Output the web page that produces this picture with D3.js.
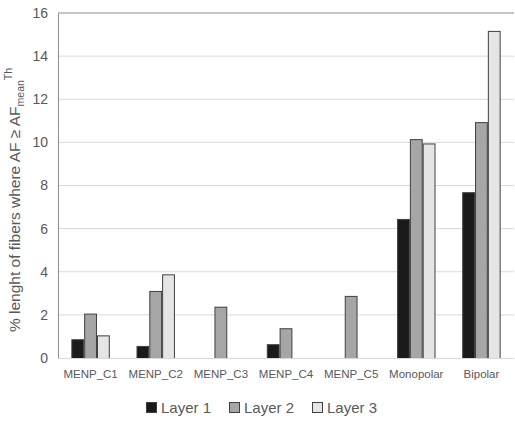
<!DOCTYPE html>
<html><head><meta charset="utf-8">
<script src="https://cdn.jsdelivr.net/npm/d3@7"></script>
<style>body{margin:0;background:#fff}text{font-family:"Liberation Sans",Arial,sans-serif;fill:#595959}</style>
</head><body><svg id="c" width="515" height="421"></svg>
<script>
const categories = ["MENP_C1","MENP_C2","MENP_C3","MENP_C4","MENP_C5","Monopolar","Bipolar"];
const seriesNames = ["Layer 1","Layer 2","Layer 3"];
const layer1 = [0.87, 0.56, 0, 0.64, 0, 6.45, 7.69];
const layer2 = [2.06, 3.11, 2.38, 1.38, 2.88, 10.15, 10.94];
const layer3 = [1.05, 3.88, 0, 0, 0, 9.95, 15.17];
const yTicks = [0,2,4,6,8,10,12,14,16];
const colors = ["#1a1a1a","#a8a5a5","#e6e5e5"];

const series = [layer1, layer2, layer3];
const svg = d3.select("#c");
const m = {l:58, r:514, t:13, b:358};
const x0 = d3.scaleBand().domain(categories).range([m.l, m.r]).paddingInner(0.41).paddingOuter(0.205);
const x1 = d3.scaleBand().domain(seriesNames).range([0, x0.bandwidth()]);
const y = d3.scaleLinear().domain([0,16]).range([m.b, m.t]);

// gridlines
svg.append("g").selectAll("line").data(yTicks.filter(d=>d>0 && d<16)).join("line")
  .attr("x1", m.l).attr("x2", m.r).attr("y1", d=>y(d)).attr("y2", d=>y(d))
  .attr("stroke","#d9d9d9").attr("stroke-width",1);
// top frame line
svg.append("line").attr("x1",m.l).attr("x2",m.r).attr("y1",y(16)).attr("y2",y(16)).attr("stroke","#8c8c8c");
// y axis
const yAxis = d3.axisLeft(y).tickValues(yTicks).tickSize(0).tickPadding(10);
const gy = svg.append("g").attr("transform",`translate(${m.l},0)`).call(yAxis);
gy.select(".domain").attr("stroke","#8c8c8c");
gy.selectAll("text").style("font-size","14px").attr("fill","#595959");
// bars
const g = svg.append("g");
categories.forEach((c,i)=>{
  series.forEach((s,j)=>{
    if (s[i] <= 0) return;
    g.append("rect").attr("x", x0(c)+x1(seriesNames[j])+0.5).attr("y", y(s[i])+0.5)
     .attr("width", x1.bandwidth()-1).attr("height", y(0)-y(s[i]))
     .attr("fill", colors[j]).attr("stroke","#404040").attr("stroke-width",1);
  });
});
// x axis
const xAxis = d3.axisBottom(x0).tickSize(0).tickPadding(12);
const gx = svg.append("g").attr("transform",`translate(0,${m.b})`).call(xAxis);
gx.select(".domain").attr("stroke","#d9d9d9");
gx.selectAll("text").style("font-size","11.5px").attr("fill","#595959");

// y title
const yt = svg.append("text").attr("transform","translate(20,200) rotate(-90)").attr("text-anchor","middle").style("font-size","15.5px");
yt.append("tspan").text("% lenght of fibers where AF ≥ AF");
yt.append("tspan").text("mean").style("font-size","10.5px").attr("dy",4);
yt.append("tspan").text("Th").style("font-size","10.5px").attr("dy",-12);

// legend
const lx = [146, 229, 312];
seriesNames.forEach((n,j)=>{
  svg.append("rect").attr("x",lx[j]+0.5).attr("y",402.5).attr("width",10).attr("height",10)
    .attr("fill",colors[j]).attr("stroke","#404040");
  svg.append("text").attr("x",lx[j]+15).attr("y",413).style("font-size","15px").text(n);
});
</script></body></html>
